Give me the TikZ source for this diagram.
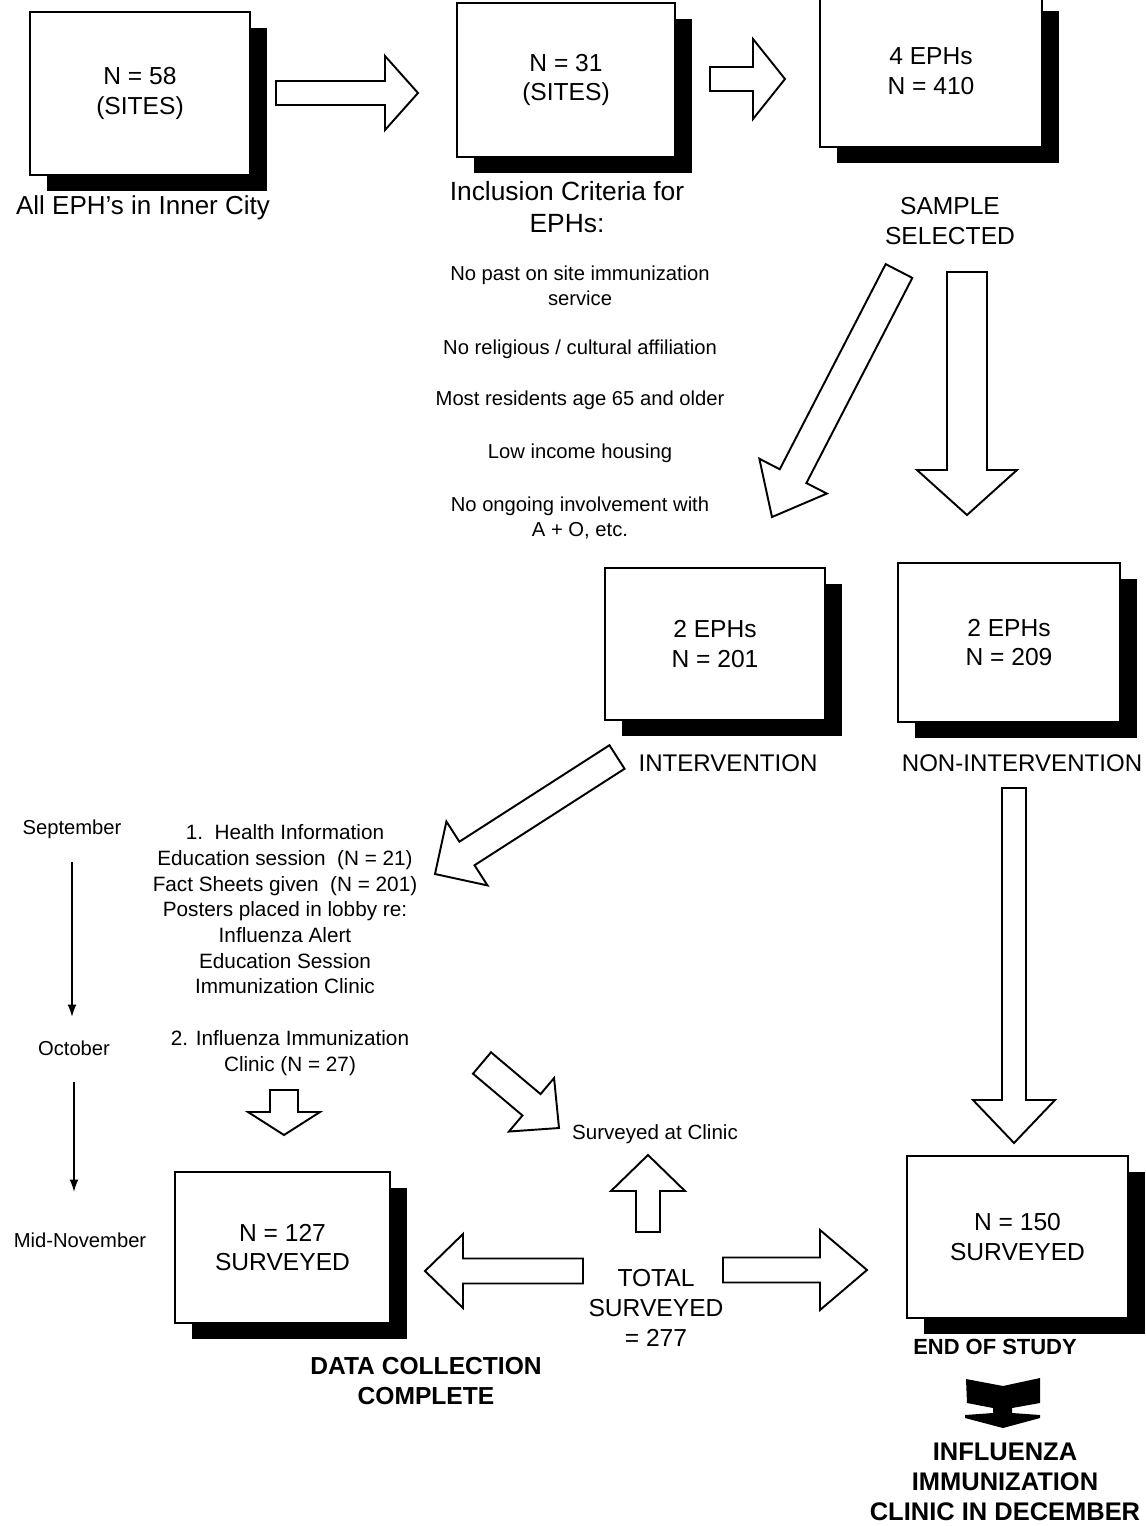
\documentclass[tikz,border=0pt]{standalone}
\usepackage{fontspec}
\setmainfont{Liberation Sans}
\usetikzlibrary{calc,shadows,arrows.meta}
\tikzset{
  box/.style={draw, line width=0.9pt, fill=white, align=center, inner sep=0pt,
    font=\fontsize{14}{17}\selectfont,
    drop shadow={shadow xshift=0.34cm, shadow yshift=-0.32cm, fill=black, opacity=1}},
  blockar/.style={draw, line width=1.1pt, fill=white, line join=miter},
  lbl/.style={align=center, inner sep=0pt},
  crit/.style={lbl, font=\fontsize{11.5}{14.2}\selectfont},
  month/.style={lbl, font=\fontsize{11.5}{14}\selectfont},
  bold/.style={lbl, font=\bfseries\fontsize{14}{17.5}\selectfont},
  tl/.style={line width=0.9pt, -{Latex[length=7pt,width=5pt]}}
}
\newcommand{\blockarrow}[5]{%
  \coordinate (ba-h) at ($(#2)!#5!(#1)$);
  \draw[blockar] ($(#1)!#3!90:(#2)$) -- ($(ba-h)!#3!90:(#2)$) -- ($(ba-h)!#4!90:(#2)$)
    -- (#2) -- ($(ba-h)!#4!-90:(#2)$) -- ($(ba-h)!#3!-90:(#2)$) -- ($(#1)!#3!-90:(#2)$) -- cycle;}
\begin{document}
\begin{tikzpicture}[x=0.02cm, y=-0.02cm]
\path[use as bounding box, fill=white] (0,0) rectangle (1146,1526);

% boxes
\node[box, minimum width=4.40cm, minimum height=3.26cm] (b1) at (140,93.5) {N = 58\\(SITES)};
\node[box, minimum width=4.36cm, minimum height=3.08cm] (b2) at (566,80) {N = 31\\(SITES)};
\node[box, minimum width=4.44cm, minimum height=3.04cm] (b3) at (931,71) {4 EPHs\\N = 410};
\node[box, minimum width=4.40cm, minimum height=3.04cm] (b4) at (715,644) {2 EPHs\\N = 201};
\node[box, minimum width=4.44cm, minimum height=3.18cm] (b5) at (1009,642.5) {2 EPHs\\N = 209};
\node[box, minimum width=4.30cm, minimum height=3.02cm] (b6) at (282.5,1247.5) {N = 127\\SURVEYED};
\node[box, minimum width=4.42cm, minimum height=3.24cm] (b7) at (1017.5,1237) {N = 150\\SURVEYED};

% labels
\node[lbl, font=\fontsize{14.8}{18}\selectfont] (l1) at (143,208) {All EPH's in Inner City};
\node[lbl, font=\fontsize{15}{18}\selectfont] (l2) at (567,207) {Inclusion Criteria for\\EPHs:};
\node[lbl, font=\fontsize{14}{17}\selectfont] (l3) at (950,221) {SAMPLE\\SELECTED};
\node[crit] (c1) at (580,285.5) {No past on site immunization\\service};
\node[crit] (c2) at (580,349) {No religious / cultural affiliation};
\node[crit] (c3) at (580,400) {Most residents age 65 and older};
\node[crit] (c4) at (580,453) {Low income housing};
\node[crit] (c5) at (580,517.5) {No ongoing involvement with\\A + O, etc.};
\node[lbl, font=\fontsize{13.7}{16}\selectfont] (l4) at (728,763) {INTERVENTION};
\node[lbl, font=\fontsize{13.7}{16}\selectfont] (l5) at (1022,763) {NON-INTERVENTION};

\node[month] (m1) at (72,829) {September};
\node[month] (m2) at (74,1048) {October};
\node[month] (m3) at (80,1240) {Mid-November};

\node[lbl, font=\fontsize{11.8}{14.6}\selectfont] (hi) at (285,909.5)
  {1.\ \ Health Information\\Education session\ \ (N = 21)\\Fact Sheets given\ \ (N = 201)\\Posters placed in lobby re:\\Influenza Alert\\Education Session\\Immunization Clinic};
\node[lbl, font=\fontsize{11.8}{15}\selectfont] (ic) at (290,1053) {2. Influenza Immunization\\Clinic (N = 27)};
\node[lbl, font=\fontsize{11.7}{14}\selectfont] (sc) at (655,1134) {Surveyed at Clinic};
\node[lbl, font=\fontsize{14}{17}\selectfont] (tot) at (656,1308) {TOTAL\\SURVEYED\\= 277};
\node[bold] (dc) at (426,1381) {DATA COLLECTION\\COMPLETE};
\node[lbl, font=\bfseries\fontsize{12.5}{15}\selectfont] (eos) at (995,1347) {END OF STUDY};
\node[lbl, font=\bfseries\fontsize{14.5}{17}\selectfont] (flu) at (1005,1482) {INFLUENZA\\IMMUNIZATION\\CLINIC IN DECEMBER};

% block arrows
\coordinate (a1s) at (276,93);   \coordinate (a1e) at (418,93);
\coordinate (a2s) at (710,79);   \coordinate (a2e) at (785,79);
\coordinate (a3s) at (899,271);  \coordinate (a3e) at (772,517);
\coordinate (a4s) at (967,272);  \coordinate (a4e) at (967,515);
\coordinate (a5s) at (617,757);  \coordinate (a5e) at (435,874);
\coordinate (a6s) at (482,1063); \coordinate (a6e) at (559,1128);
\coordinate (a7s) at (284,1090); \coordinate (a7e) at (284,1135);
\coordinate (a8s) at (648,1232); \coordinate (a8e) at (648,1155);
\coordinate (a9s) at (583,1271); \coordinate (a9e) at (425,1271);
\coordinate (a10s) at (723,1270); \coordinate (a10e) at (867,1270);
\coordinate (a11s) at (1014,788); \coordinate (a11e) at (1014,1143);
\blockarrow{a1s}{a1e}{0.24cm}{0.74cm}{0.66cm}
\blockarrow{a2s}{a2e}{0.24cm}{0.80cm}{0.64cm}
\blockarrow{a3s}{a3e}{0.30cm}{0.76cm}{0.92cm}
\blockarrow{a4s}{a4e}{0.40cm}{1.00cm}{0.90cm}
\blockarrow{a5s}{a5e}{0.28cm}{0.76cm}{0.76cm}
\blockarrow{a6s}{a6e}{0.28cm}{0.70cm}{0.72cm}
\blockarrow{a7s}{a7e}{0.28cm}{0.72cm}{0.46cm}
\blockarrow{a8s}{a8e}{0.24cm}{0.74cm}{0.72cm}
\blockarrow{a9s}{a9e}{0.25cm}{0.74cm}{0.76cm}
\blockarrow{a10s}{a10e}{0.25cm}{0.80cm}{0.94cm}
\blockarrow{a11s}{a11e}{0.24cm}{0.82cm}{0.86cm}

% timeline
\coordinate (t1s) at (72,862);  \coordinate (t1e) at (72,1017);
\coordinate (t2s) at (74,1082); \coordinate (t2e) at (74,1192);
\draw[tl] (t1s) -- (t1e);
\draw[tl] (t2s) -- (t2e);

% black arrow
\fill[black] (966,1379) -- (1003,1386) -- (1040,1378) -- (1040,1403) -- (1012,1408)
  -- (1012,1413) -- (1040,1415) -- (1040,1418) -- (1003,1428) -- (965,1418)
  -- (965,1415) -- (993,1413) -- (993,1408) -- (967,1403) -- cycle;
\end{tikzpicture}
\end{document}
